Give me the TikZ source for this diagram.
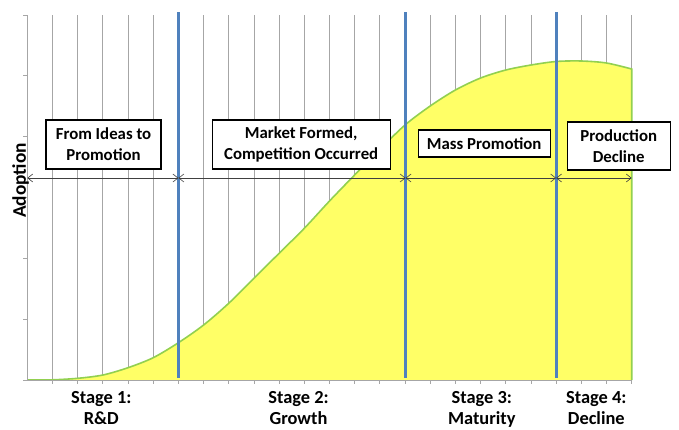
\documentclass[tikz,border=0pt]{standalone}
\usepackage{fontspec}
\setmainfont{Carlito}
\usetikzlibrary{arrows.meta}
\definecolor{gridgray}{HTML}{A6A6A6}
\definecolor{fillyel}{HTML}{FFFF66}
\definecolor{curvegreen}{HTML}{92D050}
\definecolor{stageblue}{HTML}{4F81BD}
\tikzset{
  gridline/.style={draw=gridgray, line width=0.8pt},
  stageline/.style={draw=stageblue, line width=3pt},
  spanarrow/.style={draw=black!75, line width=0.6pt, {Straight Barb[length=5pt,width=8pt]}-{Straight Barb[length=5pt,width=8pt]}},
  labelbox/.style={draw=black, line width=1.2pt, fill=white, font=\bfseries\fontsize{16.8}{20.7}\selectfont, align=center, inner sep=0pt},
  stagelabel/.style={font=\bfseries\fontsize{18.4}{21.2}\selectfont, align=center, anchor=base, inner sep=0pt},
}
\begin{document}
\begin{tikzpicture}[x=1pt,y=-1pt]
\useasboundingbox (0,0) rectangle (679,429);
% grid lines
\foreach \i in {1,...,24} {
  \draw[gridline] ({27.3+\i*25.18},15) -- ({27.3+\i*25.18},384);
}
% y axis ticks
\foreach \yy in {15,75.8,136.7,197.5,258.3,319.2,380} {
  \draw[gridline] (23,\yy) -- (27.3,\yy);
}
% area
\fill[fillyel] plot[smooth, tension=0.5] coordinates {(27.3,380) (52.5,379.8) (77.7,378.3) (102.9,375) (128.0,367.7) (153.2,357.7) (178.4,342.7) (203.6,325) (228.7,303.3) (253.9,278.3) (279.1,253.3) (304.3,228.3) (329.5,201) (354.6,175) (379.8,149.5) (405,125) (430.2,106) (455.4,90) (480.6,78) (505.8,70) (531,65) (556.1,61.5) (581.3,61) (606.5,63) (631.7,69)} -- (631.7,380) -- cycle;
\draw[curvegreen, line width=1.6pt] plot[smooth, tension=0.5] coordinates {(27.3,380) (52.5,379.8) (77.7,378.3) (102.9,375) (128.0,367.7) (153.2,357.7) (178.4,342.7) (203.6,325) (228.7,303.3) (253.9,278.3) (279.1,253.3) (304.3,228.3) (329.5,201) (354.6,175) (379.8,149.5) (405,125) (430.2,106) (455.4,90) (480.6,78) (505.8,70) (531,65) (556.1,61.5) (581.3,61) (606.5,63) (631.7,69)} -- (631.7,380);
% axes
\draw[gridline] (27.3,15) -- (27.3,380) -- (631.7,380);
% stage lines
\draw[stageline] (178.4,12) -- (178.4,378);
\draw[stageline] (405.6,12) -- (405.6,378);
\draw[stageline] (556.1,12) -- (556.1,378);
% span arrows
\coordinate (s0) at (27.3,178);
\coordinate (s1) at (178.4,178);
\coordinate (s2) at (405.6,178);
\coordinate (s3) at (556.1,178);
\coordinate (s4) at (631.7,178);
\draw[spanarrow] (s0) -- (s1);
\draw[spanarrow] (s1) -- (s2);
\draw[spanarrow] (s2) -- (s3);
\draw[spanarrow] (s3) -- (s4);
% boxes
\node[labelbox, minimum width=115pt, minimum height=49pt] (b1) at (103.5,144.5) {From Ideas to\\Promotion};
\node[labelbox, minimum width=178pt, minimum height=49pt] (b2) at (301.2,144.5) {Market Formed,\\Competition Occurred};
\node[labelbox, minimum width=132pt, minimum height=27pt] (b3) at (484.2,143.5) {Mass Promotion};
\node[labelbox, minimum width=103pt, minimum height=48pt] (b4) at (618.7,146) {Production\\Decline};
% axis label
\node[font=\bfseries\fontsize{19.3}{22}\selectfont, rotate=90, inner sep=0pt] (ylab) at (20.5,180.5) {Adoption};
% stage labels
\node[stagelabel] (st1) at (101.3,424.5) {Stage 1:\\R\&D};
\node[stagelabel] (st2) at (298.5,424.5) {Stage 2:\\Growth};
\node[stagelabel] (st3) at (481.8,424.5) {Stage 3:\\Maturity};
\node[stagelabel] (st4) at (596.3,424.5) {Stage 4:\\Decline};
\end{tikzpicture}
\end{document}
